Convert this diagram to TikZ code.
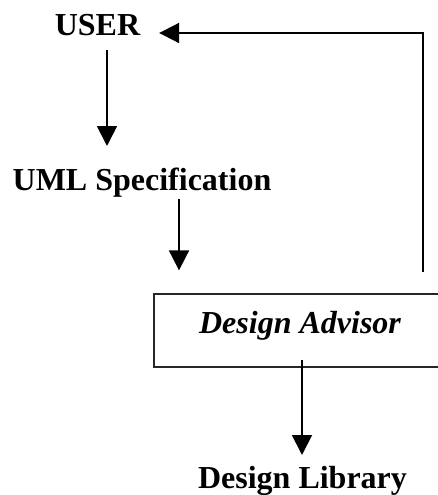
\documentclass[tikz,border=0pt]{standalone}
\usepackage{fontspec}
\setmainfont{Liberation Serif}
\usepackage{tikz}
\usetikzlibrary{arrows.meta, positioning}

\begin{document}
\begin{tikzpicture}[
      x=1pt, y=-1pt,
      label/.style={inner sep=0pt, outer sep=0pt, text height=22pt, text depth=8pt,
                    font=\fontsize{32}{38}\selectfont\bfseries},
      block/.style={rectangle, draw=black!85, line width=1.3pt, inner sep=0pt,
                    minimum width=292pt, minimum height=73pt,
                    text height=14pt, text depth=9pt,
                    font=\fontsize{32}{38}\selectfont\bfseries\itshape},
      arrow/.style={-{Triangle[width=20pt,length=20pt]}, line width=1.9pt}
    ]
        \clip (0,0) rectangle (438,495);
        \node[label, anchor=base] (user) at (97.5,36) {USER};
        \node[label, anchor=base] (uml) at (142,190) {UML Specification};
        \node[block] (advisor) at (300,330.5) {Design Advisor};
        \node[label, anchor=base] (library) at (302.5,488) {Design Library};
        \draw[arrow] ([xshift=9.5pt,yshift=-6pt]user.south) -- ([xshift=-35pt,yshift=22pt]uml.north);
        \draw[arrow] ([xshift=37pt,yshift=-1pt]uml.south) -- ([xshift=-121pt,yshift=23pt]advisor.north);
        \draw[arrow] ([xshift=2pt,yshift=8pt]advisor.south) -- ([xshift=-0.5pt,yshift=11pt]library.north);
        \draw[arrow] ([xshift=123pt,yshift=21pt]advisor.north) |- ([xshift=19pt,yshift=-4pt]user.east);
    \end{tikzpicture}
\end{document}
